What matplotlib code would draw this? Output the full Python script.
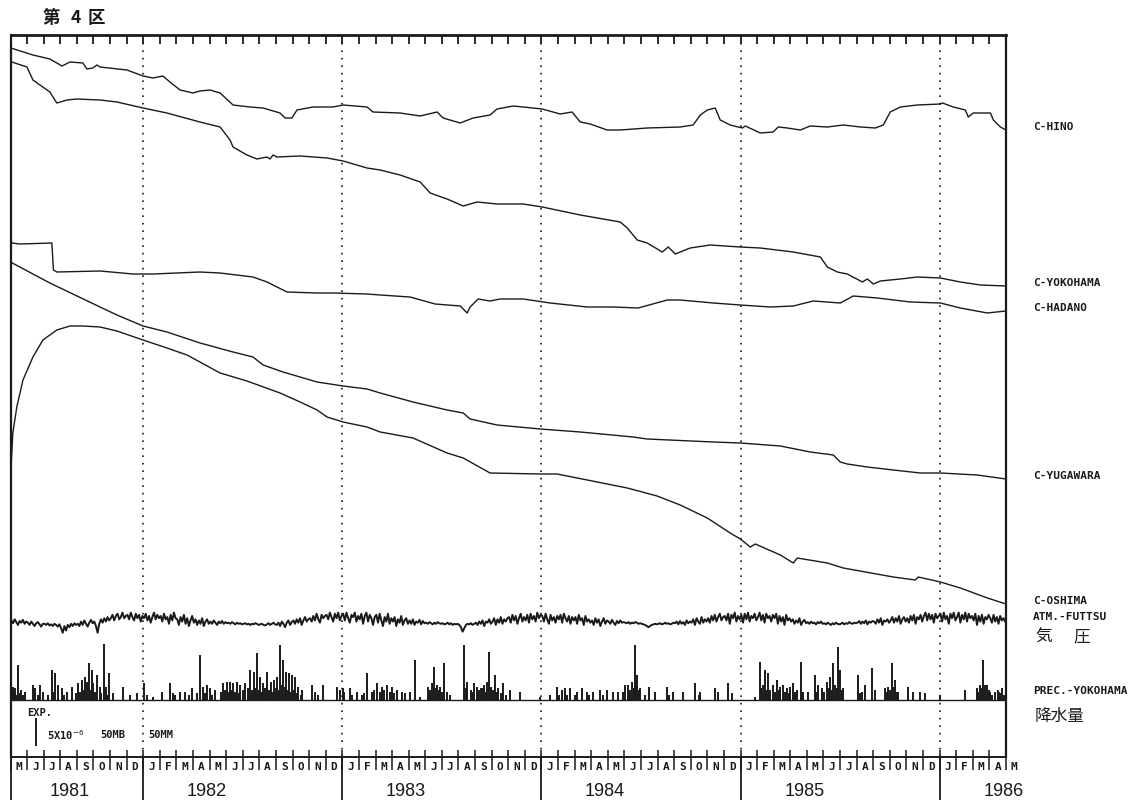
import matplotlib
matplotlib.use("Agg")
import matplotlib.pyplot as plt
import matplotlib.transforms as mtransforms
import numpy as np

plt.rcParams['font.family'] = ['DejaVu Sans Mono', 'Noto Sans CJK JP']

# record span: May 1981 - May 1986 (decimal years)
T0 = 1981 + 4 / 12
T1 = 1986 + 4 / 12

# strain traces, chart units (28 units = 5x10^-6 strain), stacked top to bottom
hino_t = [1981.335, 1981.446, 1981.531, 1981.592, 1981.632, 1981.697, 1981.717, 1981.747, 1981.767, 1981.783,
          1981.918, 1981.999, 1982.049, 1982.099, 1982.134, 1982.185, 1982.250, 1982.285, 1982.335, 1982.386,
          1982.451, 1982.536, 1982.602, 1982.687, 1982.712, 1982.747, 1982.772, 1982.853, 1982.953, 1983.004,
          1983.124, 1983.154, 1983.290, 1983.391, 1983.476, 1983.506, 1983.592, 1983.657, 1983.742, 1983.777,
          1983.858, 1983.908, 1984.004, 1984.094, 1984.154, 1984.195, 1984.245, 1984.330, 1984.396, 1984.531,
          1984.697, 1984.762, 1984.798, 1984.833, 1984.873, 1984.898, 1984.948, 1985.009, 1985.024, 1985.099,
          1985.164, 1985.189, 1985.235, 1985.300, 1985.350, 1985.436, 1985.516, 1985.602, 1985.677, 1985.717,
          1985.752, 1985.803, 1985.888, 1986.004, 1986.014, 1986.069, 1986.129, 1986.144, 1986.169, 1986.255,
          1986.270, 1986.305, 1986.333]
hino_v = [709, 702, 698, 691, 695, 694, 688, 689, 692, 690,
          687, 681, 679, 681, 675, 667, 664, 666, 667, 664,
          652, 650, 649, 644, 639, 639, 647, 650, 650, 652,
          650, 645, 644, 641, 645, 639, 634, 639, 642, 648,
          651, 650, 648, 643, 645, 635, 633, 627, 627, 629,
          630, 632, 642, 647, 649, 637, 632, 629, 631, 624,
          625, 630, 629, 627, 631, 630, 632, 630, 629, 632,
          645, 650, 652, 653, 654, 650, 647, 640, 644, 644,
          637, 630, 627]

yoko_t = [1981.340, 1981.416, 1981.446, 1981.481, 1981.531, 1981.566, 1981.617, 1981.667, 1981.783, 1981.868,
          1981.999, 1982.119, 1982.285, 1982.386, 1982.436, 1982.451, 1982.521, 1982.571, 1982.622, 1982.637,
          1982.652, 1982.672, 1982.788, 1982.923, 1983.004, 1983.124, 1983.190, 1983.290, 1983.391, 1983.441,
          1983.526, 1983.607, 1983.677, 1983.777, 1983.908, 1984.004, 1984.195, 1984.396, 1984.431, 1984.481,
          1984.531, 1984.607, 1984.637, 1984.672, 1984.747, 1984.848, 1984.999, 1985.099, 1985.265, 1985.401,
          1985.436, 1985.486, 1985.536, 1985.612, 1985.637, 1985.667, 1985.702, 1985.803, 1985.888, 1986.004,
          1986.104, 1986.205, 1986.333]
yoko_v = [695, 690, 677, 672, 665, 654, 657, 658, 657, 655,
          649, 644, 635, 630, 617, 610, 602, 598, 600, 598,
          602, 600, 601, 599, 596, 589, 587, 582, 575, 564,
          558, 551, 555, 553, 553, 550, 542, 535, 529, 517,
          514, 505, 510, 503, 509, 512, 510, 509, 505, 500,
          490, 485, 483, 475, 478, 473, 476, 478, 480, 479,
          475, 472, 471]

hada_t = [1981.334, 1981.340, 1981.381, 1981.541, 1981.549, 1981.566, 1981.783, 1981.948, 1982.049, 1982.285,
          1982.386, 1982.551, 1982.622, 1982.672, 1982.722, 1982.873, 1982.953, 1983.124, 1983.190, 1983.340,
          1983.466, 1983.592, 1983.627, 1983.642, 1983.682, 1983.742, 1983.793, 1983.908, 1984.044, 1984.230,
          1984.360, 1984.486, 1984.632, 1984.697, 1984.863, 1984.999, 1985.149, 1985.265, 1985.365, 1985.501,
          1985.566, 1985.687, 1985.853, 1986.004, 1986.104, 1986.240, 1986.333]
hada_v = [520, 514, 513, 514, 487, 485, 486, 483, 483, 485,
          484, 480, 475, 470, 465, 464, 464, 463, 462, 460,
          453, 451, 444, 450, 458, 456, 458, 458, 454, 450,
          450, 449, 457, 457, 454, 452, 450, 451, 456, 454,
          461, 459, 455, 454, 449, 444, 446]

yuga_t = [1981.333, 1981.531, 1981.783, 1981.868, 1981.999, 1982.119, 1982.285, 1982.451, 1982.551, 1982.602,
          1982.702, 1982.873, 1983.004, 1983.124, 1983.190, 1983.355, 1983.526, 1983.607, 1983.642, 1983.777,
          1983.994, 1984.195, 1984.461, 1984.531, 1984.863, 1984.999, 1985.200, 1985.350, 1985.466, 1985.501,
          1985.536, 1985.637, 1985.767, 1985.903, 1986.004, 1986.189, 1986.333]
yuga_v = [495, 474, 450, 442, 431, 425, 414, 405, 400, 392,
          385, 375, 371, 368, 364, 355, 347, 344, 338, 332,
          328, 325, 320, 318, 315, 314, 311, 305, 302, 295,
          293, 290, 287, 284, 284, 282, 278]

oshi_t = [1981.334, 1981.338, 1981.345, 1981.365, 1981.396, 1981.446, 1981.496, 1981.566, 1981.632, 1981.697,
          1981.783, 1981.868, 1981.999, 1982.119, 1982.220, 1982.386, 1982.521, 1982.687, 1982.788, 1982.873,
          1982.923, 1983.004, 1983.124, 1983.190, 1983.355, 1983.526, 1983.607, 1983.742, 1983.994, 1984.079,
          1984.230, 1984.431, 1984.581, 1984.697, 1984.833, 1984.948, 1984.999, 1985.049, 1985.074, 1985.200,
          1985.265, 1985.285, 1985.436, 1985.516, 1985.767, 1985.878, 1985.893, 1986.004, 1986.104, 1986.240,
          1986.333]
oshi_v = [267, 297, 324, 350, 377, 400, 417, 427, 431, 431,
          430, 426, 417, 409, 402, 384, 376, 364, 355, 347,
          340, 335, 330, 325, 319, 304, 299, 284, 283, 283,
          277, 269, 261, 252, 239, 224, 218, 210, 213, 202,
          194, 199, 194, 189, 180, 177, 180, 175, 169, 159,
          153]

# atmospheric pressure at Futtsu (mb), ten readings per month from May 1981
pressure_mb = [
    1014, 1009, 1016, 1011, 1006, 1013, 1010, 1015, 1008, 1012,
    1010, 1006, 1012, 1008, 1004, 1009, 1011, 1007, 1003, 1008,
    1008, 1006, 1009, 1005, 1007, 1004, 1008, 1006, 1003, 1007,
    1000, 992, 1004, 996, 1006, 1002, 1008, 1004, 1009, 1006,
    1008, 1004, 1012, 1006, 1014, 1008, 1003, 1010, 1015, 1009,
    1012, 1004, 992, 1008, 1016, 1010, 1018, 1012, 1020, 1014,
    1018, 1024, 1014, 1022, 1026, 1016, 1020, 1028, 1018, 1022,
    1024, 1016, 1028, 1020, 1014, 1026, 1018, 1024, 1012, 1022,
    1018, 1026, 1014, 1022, 1010, 1020, 1028, 1016, 1024, 1018,
    1022, 1012, 1026, 1016, 1020, 1008, 1024, 1014, 1028, 1018,
    1016, 1006, 1020, 1012, 1024, 1008, 1018, 1004, 1014, 1022,
    1010, 1016, 1006, 1014, 1008, 1018, 1004, 1012, 1016, 1008,
    1012, 1008, 1014, 1010, 1006, 1012, 1009, 1013, 1008, 1011,
    1009, 1010, 1008, 1011, 1009, 1007, 1010, 1008, 1009, 1007,
    1008, 1009, 1007, 1008, 1006, 1008, 1007, 1009, 1008, 1006,
    1007, 1008, 1006, 1005, 1007, 1009, 1006, 1008, 1010, 1007,
    1006, 1010, 1004, 1012, 1008, 1002, 1010, 1014, 1006, 1011,
    1014, 1008, 1016, 1010, 1018, 1006, 1014, 1020, 1012, 1016,
    1018, 1012, 1022, 1014, 1026, 1016, 1010, 1024, 1018, 1022,
    1024, 1016, 1028, 1020, 1012, 1026, 1018, 1028, 1014, 1022,
    1026, 1014, 1028, 1018, 1010, 1024, 1020, 1028, 1012, 1022,
    1016, 1026, 1008, 1022, 1028, 1012, 1024, 1018, 1006, 1020,
    1024, 1010, 1026, 1014, 1004, 1020, 1012, 1026, 1008, 1018,
    1012, 1020, 1004, 1016, 1010, 1022, 1006, 1014, 1018, 1008,
    1014, 1008, 1016, 1006, 1012, 1010, 1015, 1007, 1013, 1009,
    1010, 1008, 1011, 1009, 1007, 1010, 1008, 1011, 1009, 1008,
    1009, 1007, 1008, 1010, 1007, 1009, 1006, 1008, 1007, 1008,
    1006, 1002, 994, 1000, 1006, 1008, 1007, 1009, 1006, 1008,
    1010, 1006, 1012, 1008, 1014, 1004, 1012, 1010, 1016, 1008,
    1012, 1018, 1006, 1016, 1010, 1020, 1008, 1016, 1012, 1018,
    1020, 1010, 1024, 1014, 1022, 1008, 1018, 1026, 1012, 1020,
    1014, 1024, 1010, 1026, 1016, 1022, 1012, 1028, 1018, 1024,
    1022, 1012, 1026, 1016, 1008, 1024, 1014, 1020, 1010, 1022,
    1016, 1024, 1010, 1026, 1018, 1012, 1022, 1008, 1020, 1014,
    1020, 1008, 1024, 1014, 1018, 1006, 1022, 1012, 1016, 1010,
    1014, 1006, 1018, 1010, 1016, 1004, 1012, 1018, 1008, 1014,
    1012, 1008, 1015, 1010, 1006, 1013, 1009, 1014, 1010, 1011,
    1010, 1009, 1011, 1008, 1010, 1009, 1011, 1010, 1008, 1009,
    1008, 1007, 1006, 1004, 1002, 1004, 1006, 1007, 1008, 1007,
    1008, 1009, 1007, 1008, 1010, 1008, 1009, 1007, 1008, 1010,
    1009, 1012, 1007, 1013, 1008, 1011, 1006, 1014, 1009, 1012,
    1010, 1016, 1006, 1018, 1012, 1008, 1020, 1010, 1016, 1012,
    1018, 1010, 1022, 1014, 1024, 1012, 1020, 1026, 1014, 1020,
    1022, 1014, 1026, 1008, 1024, 1018, 1028, 1012, 1022, 1016,
    1024, 1010, 1026, 1016, 1028, 1012, 1022, 1018, 1026, 1014,
    1020, 1028, 1014, 1024, 1010, 1026, 1018, 1022, 1012, 1024,
    1018, 1026, 1008, 1022, 1012, 1020, 1006, 1024, 1014, 1018,
    1012, 1016, 1008, 1014, 1010, 1018, 1006, 1012, 1015, 1009,
    1011, 1008, 1012, 1009, 1010, 1007, 1011, 1009, 1012, 1008,
    1009, 1007, 1010, 1008, 1006, 1009, 1007, 1010, 1008, 1007,
    1008, 1010, 1007, 1009, 1008, 1011, 1009, 1008, 1010, 1009,
    1010, 1013, 1008, 1012, 1009, 1014, 1007, 1012, 1010, 1013,
    1012, 1008, 1016, 1010, 1018, 1006, 1014, 1012, 1016, 1010,
    1014, 1020, 1010, 1018, 1012, 1022, 1008, 1016, 1020, 1012,
    1018, 1010, 1022, 1014, 1024, 1008, 1020, 1016, 1024, 1012,
    1022, 1028, 1014, 1026, 1016, 1024, 1010, 1026, 1018, 1022,
    1026, 1012, 1028, 1016, 1022, 1008, 1026, 1018, 1028, 1014,
    1020, 1028, 1010, 1024, 1016, 1028, 1012, 1026, 1018, 1022,
    1014, 1026, 1006, 1022, 1012, 1024, 1008, 1020, 1016, 1024,
    1018, 1010, 1024, 1012, 1020, 1008, 1022, 1014, 1018, 1012,
]

# daily precipitation at Yokohama (mm)
rain_t = [
    1981.336, 1981.345, 1981.355, 1981.370, 1981.386, 1981.406, 1981.446, 1981.456, 1981.481, 1981.496,
    1981.541, 1981.556, 1981.571, 1981.592, 1981.617, 1981.642, 1981.672, 1981.692, 1981.707, 1981.717,
    1981.727, 1981.742, 1981.750, 1981.767, 1981.783, 1981.803, 1981.813, 1981.828, 1981.848, 1981.898,
    1981.933, 1981.968,
    1982.004, 1982.019, 1982.049, 1982.094, 1982.134, 1982.149, 1982.185, 1982.210, 1982.245, 1982.285,
    1982.300, 1982.320, 1982.335, 1982.360, 1982.401, 1982.421, 1982.436, 1982.451, 1982.471, 1982.486,
    1982.511, 1982.536, 1982.556, 1982.571, 1982.587, 1982.602, 1982.622, 1982.642, 1982.657, 1982.672,
    1982.687, 1982.702, 1982.717, 1982.732, 1982.747, 1982.762, 1982.777, 1982.798, 1982.848, 1982.863,
    1982.903, 1982.973, 1982.989,
    1983.004, 1983.039, 1983.074, 1983.099, 1983.124, 1983.149, 1983.174, 1983.200, 1983.225, 1983.250,
    1983.275, 1983.300, 1983.315, 1983.340, 1983.365, 1983.391, 1983.431, 1983.451, 1983.461, 1983.476,
    1983.491, 1983.511, 1983.526, 1983.541, 1983.612, 1983.627, 1983.647, 1983.662, 1983.677, 1983.697,
    1983.712, 1983.727, 1983.735, 1983.747, 1983.767, 1983.782, 1983.808, 1983.843, 1983.893, 1983.994,
    1984.044, 1984.079, 1984.104, 1984.119, 1984.144, 1984.180, 1984.205, 1984.230, 1984.260, 1984.295,
    1984.330, 1984.360, 1984.385, 1984.421, 1984.436, 1984.456, 1984.471, 1984.481, 1984.496, 1984.541,
    1984.571, 1984.632, 1984.662, 1984.712, 1984.772, 1984.798, 1984.873, 1984.888, 1984.938, 1984.958,
    1985.074, 1985.099, 1985.114, 1985.124, 1985.139, 1985.164, 1985.185, 1985.200, 1985.215, 1985.235,
    1985.250, 1985.265, 1985.285, 1985.305, 1985.315, 1985.340, 1985.375, 1985.390, 1985.411, 1985.436,
    1985.451, 1985.466, 1985.476, 1985.491, 1985.501, 1985.516, 1985.592, 1985.612, 1985.627, 1985.662,
    1985.677, 1985.727, 1985.742, 1985.762, 1985.777, 1985.792, 1985.843, 1985.868, 1985.903, 1985.928,
    1986.004, 1986.129, 1986.189, 1986.205, 1986.220, 1986.240, 1986.255, 1986.280, 1986.295, 1986.315,
    # lighter days
    1981.340, 1981.350, 1981.362, 1981.380, 1981.398, 1981.470, 1981.520, 1981.548, 1981.600, 1981.660,
    1981.680, 1981.700, 1981.737, 1981.758, 1981.790, 1981.820,
    1982.160, 1982.230, 1982.270, 1982.310, 1982.345, 1982.390, 1982.410, 1982.428, 1982.443, 1982.460,
    1982.480, 1982.500, 1982.528, 1982.545, 1982.563, 1982.580, 1982.595, 1982.612, 1982.630, 1982.650,
    1982.665, 1982.680, 1982.695, 1982.710, 1982.725, 1982.740, 1982.755, 1982.770, 1982.790, 1982.880,
    1983.010, 1983.050, 1983.110, 1983.160, 1983.190, 1983.210, 1983.240, 1983.260, 1983.440, 1983.470,
    1983.485, 1983.500, 1983.620, 1983.655, 1983.685, 1983.705, 1983.720, 1983.755, 1983.775, 1983.795,
    1983.820,
    1984.090, 1984.130, 1984.170, 1984.240, 1984.310, 1984.410, 1984.445, 1984.464, 1984.476, 1984.488,
    1984.520, 1984.640, 1984.790,
    1985.105, 1985.130, 1985.150, 1985.175, 1985.195, 1985.225, 1985.245, 1985.275, 1985.380, 1985.420,
    1985.445, 1985.458, 1985.483, 1985.508, 1985.600, 1985.735, 1985.750, 1985.770, 1985.785,
    1986.195, 1986.212, 1986.230, 1986.248, 1986.265, 1986.300, 1986.310, 1986.325,
]
rain_mm = [
    32, 23, 21, 62, 18, 14, 27, 21, 27, 14,
    54, 48, 27, 21, 14, 23, 30, 36, 41, 32,
    66, 54, 30, 45, 23, 100, 23, 48, 12, 23,
    9, 12,
    30, 9, 5, 14, 30, 12, 14, 14, 21, 80,
    23, 27, 21, 18, 30, 32, 32, 30, 32, 27,
    30, 54, 50, 84, 41, 30, 50, 32, 36, 41,
    98, 71, 50, 48, 45, 41, 23, 18, 27, 14,
    27, 23, 18,
    21, 21, 14, 9, 48, 14, 30, 23, 27, 23,
    18, 14, 12, 14, 71, 5, 23, 30, 59, 27,
    23, 66, 14, 9, 98, 32, 18, 30, 23, 21,
    27, 32, 86, 23, 45, 21, 30, 18, 14, 5,
    9, 23, 18, 21, 21, 14, 21, 14, 14, 18,
    18, 14, 14, 27, 27, 32, 98, 45, 21, 23,
    14, 23, 14, 14, 30, 14, 21, 14, 30, 12,
    5, 68, 27, 54, 48, 27, 36, 23, 27, 21,
    23, 30, 18, 68, 14, 14, 45, 27, 21, 32,
    41, 66, 27, 95, 54, 21, 45, 14, 27, 57,
    18, 21, 23, 66, 36, 14, 23, 14, 14, 12,
    9, 18, 21, 27, 71, 27, 14, 14, 18, 21,
    # lighter days
    9, 14, 9, 12, 9, 9, 9, 14, 9, 12,
    14, 18, 18, 14, 12, 9,
    9, 9, 12, 12, 9, 14, 18, 14, 18, 14,
    12, 18, 21, 18, 21, 18, 14, 21, 18, 14,
    21, 18, 27, 23, 18, 14, 18, 12, 9, 9,
    14, 9, 12, 18, 14, 18, 14, 12, 18, 21,
    18, 14, 21, 14, 18, 21, 14, 18, 14, 12,
    9,
    9, 9, 9, 9, 9, 14, 18, 21, 32, 18,
    9, 9, 9,
    21, 18, 18, 14, 18, 14, 12, 14, 14, 14,
    21, 18, 21, 18, 12, 14, 18, 23, 14,
    14, 21, 27, 18, 9, 14, 12, 9,
]

traces = [
    ('C-HINO', hino_t, hino_v),
    ('C-YOKOHAMA', yoko_t, yoko_v),
    ('C-HADANO', hada_t, hada_v),
    ('C-YUGAWARA', yuga_t, yuga_v),
    ('C-OSHIMA', oshi_t, oshi_v),
]
MONTH_LETTERS = "JFMAMJJASOND"

SCALE = 28          # chart units for 5x10^-6 / 50 mb / 50 mm
P_BASE, P_REF = 136, 1013
R_BASE = 57
INK = '#1a1a1a'

W, H = 1137, 807
left, right, top, bottom = 10.5, 1006, 35, 757
fig = plt.figure(figsize=(W / 100, H / 100), dpi=100)
ax = fig.add_axes([left / W, 1 - bottom / H, (right - left) / W, (bottom - top) / H])
span = bottom - top
ax.set_xlim(T0, T1)
ax.set_ylim(0, span)

# strain records
for name, t, v in traces:
    ax.plot(t, v, color=INK, lw=1.0, solid_joinstyle='round')

# pressure, ten samples per month
p_t = T0 + (np.arange(len(pressure_mb)) + 0.5) / 120
p_v = P_BASE + (np.array(pressure_mb) - P_REF) * SCALE / 50
ax.plot(p_t, p_v, color=INK, lw=1.4)

# precipitation bars on their own baseline
ax.axhline(R_BASE, color=INK, lw=1.0)
ax.vlines(rain_t, R_BASE, R_BASE + np.array(rain_mm) * SCALE / 50, color=INK, lw=1.4)

# frame
for side in ['top', 'left', 'right', 'bottom']:
    ax.spines[side].set_color(INK)
ax.spines['top'].set_linewidth(2.0)
ax.spines['left'].set_linewidth(1.6)
ax.spines['right'].set_linewidth(1.6)
ax.spines['bottom'].set_linewidth(1.4)
ax.set_yticks([])

month_edges = T0 + np.arange(61) / 12
ax.set_xticks(month_edges)
ax.tick_params(axis='x', direction='in', length=6.5, width=1.3, color=INK,
               top=True, bottom=False, labeltop=False, labelbottom=False)

# year boundaries: dotted through the plot, solid below the time axis
years = [1982, 1983, 1984, 1985, 1986]
ax.vlines(years, 0, span, color=INK, lw=1.2, linestyles=(0, (1, 3.5)))
xax = ax.get_xaxis_transform()
ax.vlines([T0] + years, -43 / span, 0, color=INK, lw=1.3, transform=xax, clip_on=False)
ax.vlines(month_edges, -13 / span, 7 / span, color=INK, lw=1.1, transform=xax, clip_on=False)

# month letters and years under the axis
for m in range(61):
    ax.text(T0 + (m + 0.5) / 12, -9.5 / span, MONTH_LETTERS[(4 + m) % 12], transform=xax,
            ha='center', va='center', fontsize=8, fontweight='bold', color=INK, clip_on=False)
year_pos = [1981.63, 1982.32, 1983.32, 1984.32, 1985.32, 1986.32]
for y, x in zip(range(1981, 1987), year_pos):
    ax.text(x, -35 / span, str(y), transform=xax, ha='center', va='center',
            fontsize=13, family='Liberation Sans', color=INK, clip_on=False)

# station names to the right of the frame
lab = mtransforms.blended_transform_factory(fig.transFigure, ax.transData)
lx = 1033 / W
for name, t, v in traces:
    ax.text(lx, v[-1] + 3, name, transform=lab, ha='left', va='center',
            fontsize=8, fontweight='bold', color=INK, clip_on=False)
ax.text(lx, 140, 'ATM.-FUTTSU', transform=lab, ha='left', va='center',
        fontsize=8, fontweight='bold', color=INK)
ax.text(1035 / W, 120, '気', transform=lab, ha='left', va='center', fontsize=12,
        family=['Noto Sans CJK JP'], color=INK)
ax.text(1073 / W, 120, '圧', transform=lab, ha='left', va='center', fontsize=12,
        family=['Noto Sans CJK JP'], color=INK)
ax.text(lx, 66, 'PREC.-YOKOHAMA', transform=lab, ha='left', va='center',
        fontsize=8, fontweight='bold', color=INK)
ax.text(1035 / W, 41, '降水量', transform=lab, ha='left', va='center', fontsize=12,
        family=['Noto Sans CJK JP'], color=INK)

# scale bar
bar_t = T0 + (36 - left) / 199.1
ax.vlines(bar_t, 11, 11 + SCALE, color=INK, lw=1.4)
fig.text(27 / W, 1 - 713 / H, 'EXP.', ha='left', va='center', fontsize=7.5, fontweight='bold', color=INK)
fig.text(47 / W, 1 - 735 / H, '5X10$^{-6}$', ha='left', va='center', fontsize=7.5, fontweight='bold', color=INK)
fig.text(100 / W, 1 - 735 / H, '50MB', ha='left', va='center', fontsize=7.5, fontweight='bold', color=INK)
fig.text(148 / W, 1 - 735 / H, '50MM', ha='left', va='center', fontsize=7.5, fontweight='bold', color=INK)

# panel title
for ch, x in [('第', 43), ('4', 71), ('区', 88)]:
    fig.text(x / W, 1 - 18 / H, ch, ha='left', va='center', fontsize=12.5,
             family=['Noto Sans CJK JP'], fontweight='bold', color=INK)

fig.savefig('out.png', dpi=100)
